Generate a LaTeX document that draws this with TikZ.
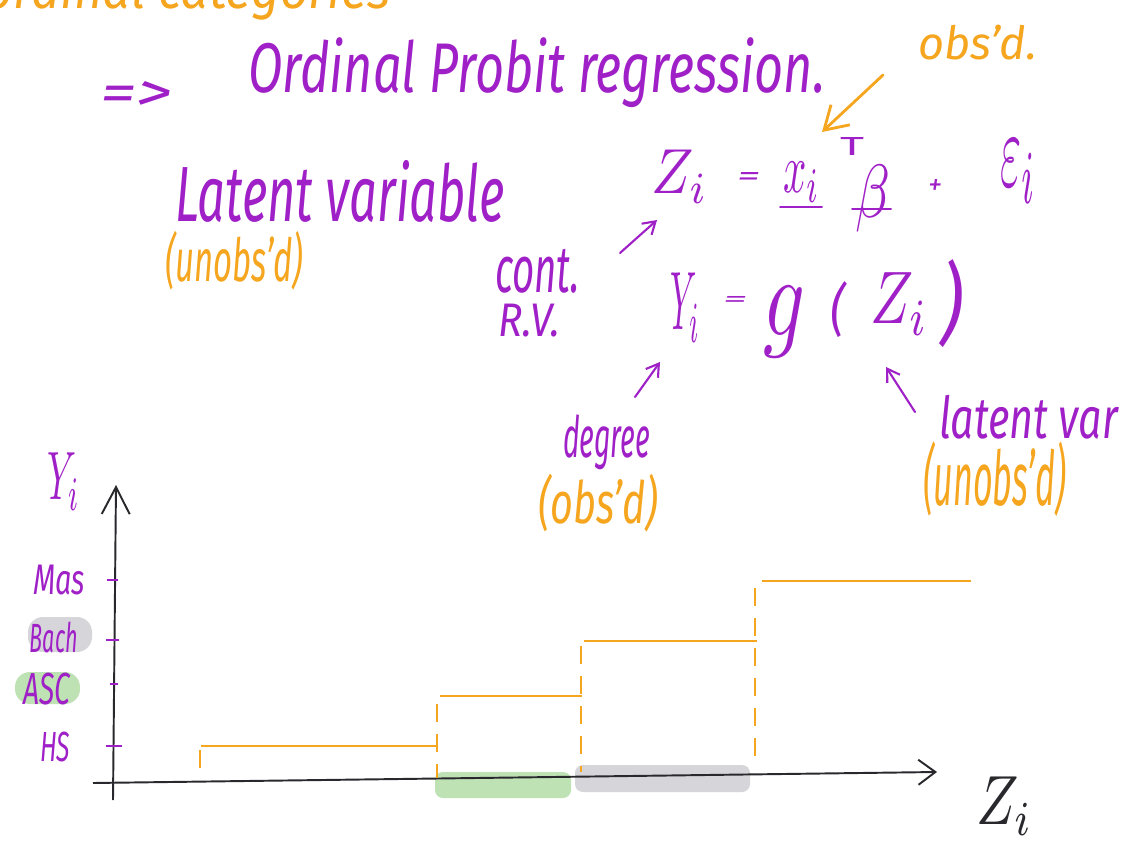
\documentclass[tikz,border=0pt]{standalone}
\usepackage{fontspec}
\setmainfont{Fira Sans}
\usepackage{graphicx}
\usetikzlibrary{arrows.meta}
\definecolor{ink}{RGB}{160,32,200}
\definecolor{hlor}{RGB}{245,165,30}
\definecolor{hlgreen}{RGB}{190,226,180}
\definecolor{hlgrey}{RGB}{214,214,218}
\definecolor{axisk}{RGB}{40,40,45}
\newlength\px \setlength\px{0.02cm}
\newcommand\hw[6]{\node[hwtext,#6] (#1) at (#2) {\resizebox*{#3\px}{#4\px}{#5}};}
\tikzset{
  hwtext/.style={anchor=north west, inner sep=0pt, outer sep=0pt, font=\itshape},
  inkarrow/.style={draw=ink, line width=1.2pt, line cap=round, -{Straight Barb[length=0.24cm,width=0.3cm]}},
  orarrow/.style={draw=hlor, line width=1.6pt, line cap=round, -{Straight Barb[length=0.45cm,width=0.55cm]}},
  inkline/.style={draw=ink, line width=1.1pt, line cap=round},
  stepline/.style={draw=hlor, line width=1.4pt},
  stepdash/.style={draw=hlor, line width=0.7pt, dash pattern=on 0.36cm off 0.24cm},
  axisline/.style={draw=axisk, line width=1.1pt},
  tickline/.style={draw=ink, line width=1.1pt},
}
\begin{document}
\begin{tikzpicture}[x=0.02cm, y=-0.02cm]
\useasboundingbox (0,0) rectangle (1131,857);
\clip (0,0) rectangle (1131,857);
\fill[white] (0,0) rectangle (1131,857);

% highlights
\fill[hlgrey, rounded corners=0.3cm] (28,617) rectangle (92,652);
\fill[hlgreen, rounded corners=0.3cm] (15,672) rectangle (80,704);
\fill[hlgreen, rounded corners=0.16cm] (435,772) rectangle (571,798);
\fill[hlgrey, rounded corners=0.16cm] (575,765) rectangle (750,792);

% texts
\hw{top}{-15,-34}{405}{54}{ordinal categories}{text=hlor}
\hw{impl}{100,82}{72}{30}{=>}{text=ink}
\hw{title}{248,38}{577}{70}{Ordinal Probit regression.}{text=ink}
\hw{obsd}{918,25}{119}{35}{obs'd.}{text=hlor}
\hw{latent}{175,160}{330}{62}{Latent variable}{text=ink}
\hw{unobsL}{165,231}{138}{59}{(unobs'd)}{text=hlor}
\hw{cont}{495,249}{85}{44}{cont.}{text=ink}
\hw{rv}{498,304}{62}{33}{R.V.}{text=ink}
\hw{degree}{563,415}{87}{55}{degree}{text=ink}
\hw{obsdB}{538,474}{120}{58}{(obs'd)}{text=hlor}
\hw{latvar}{939,395}{179}{44}{latent var}{text=ink}
\hw{unobsR}{923,442}{143}{75}{(unobs'd)}{text=hlor}

% equation 1
\hw{z1}{651,150}{57}{53}{$Z_i$}{text=ink}
\hw{eq1}{737,173}{23}{13}{=}{text=ink}
\hw{xv}{783,162}{37}{41}{$x_i$}{text=ink}
\hw{tT}{840,138}{24}{18}{\upshape T}{text=ink}
\hw{beta}{855,165}{35}{67}{$\beta$}{text=ink}
\hw{plus}{928,180}{14}{15}{+}{text=ink}
\hw{eps}{1000,140}{36}{63}{$\varepsilon_i$}{text=ink}
\draw[inkline] (780,207) -- (822,207);
\draw[inkline] (852,209) -- (891,209);

% equation 2
\hw{y1}{670,273}{30}{69}{$Y_i$}{text=ink}
\hw{eq2}{723,297}{24}{10}{=}{text=ink}
\hw{gfun}{763,287}{42}{71}{$g$}{text=ink}
\hw{lpar}{830,282}{15}{56}{(}{text=ink}
\hw{z2}{870,273}{58}{62}{$Z_i$}{text=ink}
\hw{rpar}{940,260}{23}{88}{)}{text=ink}

% annotation arrows
\coordinate (oA) at (883,75);  \coordinate (oB) at (822,132);
\coordinate (cA) at (620,253); \coordinate (cB) at (657,220);
\coordinate (dA) at (635,397); \coordinate (dB) at (660,362);
\coordinate (lA) at (915,412); \coordinate (lB) at (886,367);
\draw[orarrow] (oA) -- (oB);
\draw[inkarrow] (cA) -- (cB);
\draw[inkarrow] (dA) -- (dB);
\draw[inkarrow] (lA) -- (lB);

% axes
\coordinate (yb) at (113,800); \coordinate (yt) at (116,485);
\coordinate (xl) at (93,783);  \coordinate (xr) at (937,772);
\draw[axisline, -{Straight Barb[length=0.54cm,width=0.56cm]}] (yb) -- (yt);
\draw[axisline, -{Straight Barb[length=0.34cm,width=0.5cm]}] (xl) -- (xr);

% ticks
\draw[tickline] (107,580) -- (118,580);
\draw[tickline] (106,640) -- (119,640);
\draw[tickline] (110,684) -- (118,684);
\draw[tickline] (106,746) -- (122,746);

% axis labels
\hw{ylab}{47,453}{33}{57}{$Y_i$}{text=ink}
\hw{mas}{33,565}{52}{30}{Mas}{text=ink}
\hw{bach}{30,622}{48}{31}{Bach}{text=ink}
\hw{asc}{23,673}{47}{32}{ASC}{text=ink}
\hw{hs}{40,732}{30}{30}{HS}{text=ink}
\hw{zlab}{976,777}{57}{58}{$Z_i$}{text=axisk}

% step function
\draw[stepline] (201,746) -- (436,746);
\draw[stepline] (440,696) -- (582,696);
\draw[stepline] (584,641) -- (757,641);
\draw[stepline] (762,581) -- (971,581);
\draw[stepdash] (200,750) -- (200,777);
\draw[stepdash] (437,704) -- (437,778);
\draw[stepdash] (581,646) -- (581,772);
\draw[stepdash] (755,588) -- (755,764);
\end{tikzpicture}
\end{document}
